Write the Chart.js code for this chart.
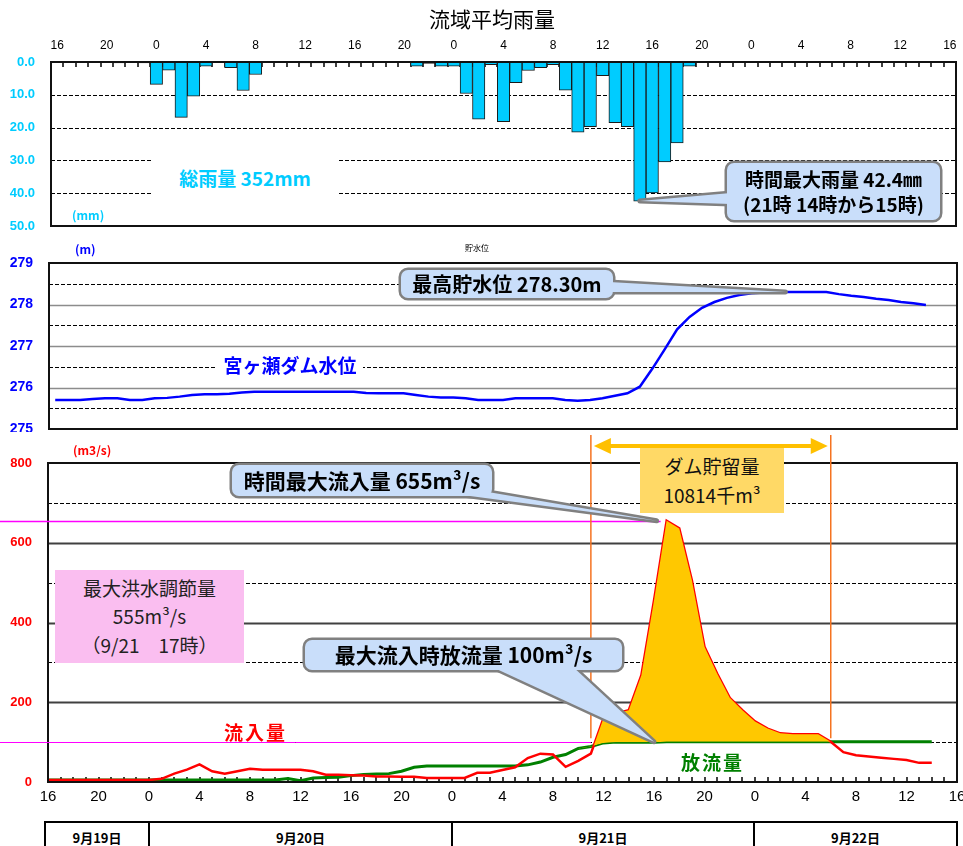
<!DOCTYPE html>
<html>
<head>
<meta charset="utf-8">
<script src="https://cdn.jsdelivr.net/npm/chart.js@4.4.0/dist/chart.umd.min.js"></script>
<style>
body{margin:0;background:#fff;width:963px;height:846px;overflow:hidden;position:relative;font-family:"Noto Sans CJK JP",sans-serif}
canvas{position:absolute;left:0}
.t{position:absolute;white-space:nowrap;line-height:1;z-index:5}
.b{font-weight:700}
.c{position:absolute;z-index:5;display:flex;flex-direction:column;align-items:center;justify-content:center;text-align:center;font-weight:700;color:#000;line-height:1.3;white-space:nowrap}
.dates{position:absolute;left:44px;top:821px;width:910px;height:40px;border:2px solid #000;display:flex;z-index:5}
.dates div{border-left:2px solid #000;text-align:center;font-weight:700;font-size:13px;padding-top:5px}
.dates div:first-child{border-left:none}
</style>
</head>
<body>
<canvas id="rain" width="963" height="232" style="top:0"></canvas>
<canvas id="level" width="963" height="200" style="top:232px"></canvas>
<canvas id="flow" width="963" height="380" style="top:432px"></canvas>

<div class="t" style="left:0;width:984px;text-align:center;top:8px;font-size:21px">流域平均雨量</div>
<div class="t b" style="left:72px;top:209px;font-size:12px;color:#00CCFF">(mm)</div>
<div class="t b" style="left:152px;top:150px;width:186px;height:55px;background:#fff;font-size:19px;color:#00CCFF;display:flex;align-items:center;justify-content:center">総雨量 352mm</div>
<div class="c" style="left:727px;top:163px;width:213px;height:57px;font-size:19px;line-height:1.3">時間最大雨量 42.4㎜<br>(21時 14時から15時)</div>

<div class="t b" style="left:75px;top:243px;font-size:12px;color:#0000FF">(m)</div>
<div class="t" style="left:465px;top:244px;font-size:8px;color:#000">貯水位</div>
<div class="t b" style="left:217px;top:355px;width:146px;height:20px;background:#fff;font-size:19px;color:#0000FF;text-align:center">宮ヶ瀬ダム水位</div>
<div class="c" style="left:401px;top:270px;width:212px;height:28px;font-size:20px">最高貯水位 278.30m</div>

<div class="t b" style="left:73px;top:444px;font-size:12px;color:#FF0000">(m3/s)</div>
<div class="c" style="left:232px;top:465px;width:260px;height:31px;font-size:21px">時間最大流入量 655m³/s</div>
<div class="c" style="left:305px;top:640px;width:317px;height:30px;font-size:21px">最大流入時放流量 100m³/s</div>
<div class="c" style="left:55px;top:570px;width:189px;height:93px;background:#FABEF0;font-weight:400;font-size:19px;color:#222;line-height:1.5">最大洪水調節量<br>555m³/s<br>（9/21　17時）</div>
<div class="c" style="left:640px;top:448px;width:144px;height:65px;background:#FFD966;font-weight:400;font-size:19px;color:#111;line-height:1.5">ダム貯留量<br>10814千m³</div>
<div class="t b" style="left:224px;top:722px;font-size:19px;color:#FF0000;letter-spacing:2px">流入量</div>
<div class="t b" style="left:681px;top:752px;font-size:19px;color:#008000;letter-spacing:2px">放流量</div>

<div class="dates">
  <div style="width:102px">9月19日</div>
  <div style="width:301px">9月20日</div>
  <div style="width:300px">9月21日</div>
  <div style="width:201px">9月22日</div>
</div>

<script>
// hour labels 9/19 16時 - 9/22 16時
var hourLabels = ['16','17','18','19','20','21','22','23',
  '0','1','2','3','4','5','6','7','8','9','10','11','12','13','14','15','16','17','18','19','20','21','22','23',
  '0','1','2','3','4','5','6','7','8','9','10','11','12','13','14','15','16','17','18','19','20','21','22','23',
  '0','1','2','3','4','5','6','7','8','9','10','11','12','13','14','15','16'];

// 流域平均雨量 (mm/h)
var rain = [null,null,null,null,null,0.3,null,0.3,
  6.8,2.5,16.9,10.4,1.3,null,1.7,8.7,3.8,null,null,null,0.3,0.3,0.3,null,0.3,null,null,null,null,1.3,0.4,1.3,
  1.3,9.6,17.4,0.8,18.2,6.3,2.6,1.7,0.8,8.6,21.4,19.7,4.2,18.5,19.7,42.4,39.9,30.5,24.7,1.3,null,null,null,null,
  null,null,null,null,null,null,null,null,null,null,null,null,null,null,null,null,null];

// 貯水位 (m)
var level = [275.70,275.70,275.70,275.72,275.74,275.74,275.70,275.70,
  275.74,275.75,275.78,275.82,275.84,275.84,275.85,275.88,275.90,275.90,275.90,275.90,275.90,275.90,275.90,275.90,
  275.90,275.87,275.86,275.86,275.86,275.82,275.78,275.76,275.76,275.74,275.70,275.70,275.70,275.74,275.74,275.74,
  275.74,275.70,275.68,275.70,275.74,275.80,275.86,276.02,276.45,276.92,277.40,277.70,277.92,278.06,278.16,278.23,
  278.27,278.29,278.30,278.30,278.30,278.30,278.30,278.25,278.21,278.18,278.14,278.11,278.06,278.03,277.99];

// 流入量 / 放流量 (m3/s)
var inflow = [5,5,5,5,5,5,5,5,5,8,
  21,31,44,27,21,27,33,31,31,31,
  31,27,18,18,17,16,14,14,13,13,
  10,10,10,10,23,23,30,37,60,71,
  69,38,53,71,160,172,180,268,455,655,
  636,506,339,272,211,180,152,134,122,120,
  120,120,101,75,67,64,61,58,55,48,48];
var outflow = [5,5,5,5,5,5,5,5,5,5,
  5,5,5,5,5,5,5,5,5,9,
  3,10,11,12,16,19,20,21,27,37,
  40,40,40,40,40,40,40,40,43,50,
  62,69,84,89,98,100,100,100,100,101,
  101,101,101,101,101,101,101,101,101,101,
  101,101,101,101,101,101,101,101,101,101,101];

var storageStart = 43, storageEnd = 62;
var peakIdx = inflow.indexOf(Math.max.apply(null, inflow));
var storage = inflow.map(function(v, i){ return (i >= storageStart && i <= storageEnd) ? v : outflow[i]; });

// keep label overflow from shrinking the plot area
function fixX(h){ return function(s){ s.height = h; s.paddingLeft = 0; s.paddingRight = 0; }; }
function fixY(w){ return function(s){ s.width = w; s.paddingTop = 0; s.paddingBottom = 0; }; }

function gridPlugin(o){
  return {
    id: 'grid_' + o.name,
    beforeDatasetsDraw: function(chart){
      var ctx = chart.ctx, a = chart.chartArea, x = chart.scales.x, y = chart.scales.y;
      ctx.save();
      ctx.lineWidth = o.solidWidth || 1;
      ctx.strokeStyle = o.solidColor || '#808080';
      (o.solid || []).forEach(function(v){
        var py = Math.round(y.getPixelForValue(v)) + 0.5;
        ctx.beginPath(); ctx.moveTo(a.left, py); ctx.lineTo(a.right, py); ctx.stroke();
      });
      ctx.lineWidth = 1;
      ctx.strokeStyle = '#000';
      ctx.setLineDash([4, 2]);
      (o.dashed || []).forEach(function(v){
        var py = Math.round(y.getPixelForValue(v)) + 0.5;
        ctx.beginPath(); ctx.moveTo(a.left, py); ctx.lineTo(a.right, py); ctx.stroke();
      });
      ctx.setLineDash([]);
      ctx.lineWidth = 1.5;
      if (o.ticks == 'top') {
        var half = (x.getPixelForValue(1) - x.getPixelForValue(0)) / 2;
        for (var i = 1; i < hourLabels.length; i++) {
          var px = Math.round(x.getPixelForValue(i) - half);
          ctx.beginPath(); ctx.moveTo(px, a.top); ctx.lineTo(px, a.top + 5); ctx.stroke();
        }
      }
      if (o.ticks == 'bottom') {
        for (var j = 1; j < hourLabels.length - 1; j++) {
          var qx = Math.round(x.getPixelForValue(j));
          ctx.beginPath(); ctx.moveTo(qx, a.bottom); ctx.lineTo(qx, a.bottom - 5); ctx.stroke();
        }
      }
      ctx.restore();
    },
    afterDatasetsDraw: function(chart){
      var ctx = chart.ctx, a = chart.chartArea;
      ctx.save();
      ctx.lineWidth = 2;
      ctx.strokeStyle = '#111';
      ctx.strokeRect(a.left, a.top, a.right - a.left, a.bottom - a.top);
      ctx.restore();
    }
  };
}

function drawCallout(ctx, box, base, tip){
  var x = box[0], y = box[1], w = box[2], h = box[3];
  function rect(){ ctx.beginPath(); ctx.roundRect(x, y, w, h, 7); }
  function wedge(){ ctx.beginPath(); ctx.moveTo(base[0][0], base[0][1]); ctx.lineTo(tip[0], tip[1]); ctx.lineTo(base[1][0], base[1][1]); ctx.closePath(); }
  ctx.save();
  ctx.lineJoin = 'round';
  ctx.strokeStyle = '#808080';
  ctx.lineWidth = 5;
  rect(); ctx.stroke(); wedge(); ctx.stroke();
  ctx.fillStyle = '#C9DEFA';
  rect(); ctx.fill(); wedge(); ctx.fill();
  ctx.restore();
}

var fontNum = 'Liberation Sans';

// ---------------- rain
new Chart(document.getElementById('rain'), {
  type: 'bar',
  data: {
    labels: hourLabels,
    datasets: [{
      data: rain,
      backgroundColor: '#00CCFF',
      borderColor: '#1a1a1a',
      borderWidth: 1,
      borderSkipped: false,
      barPercentage: 1,
      categoryPercentage: 1
    }]
  },
  options: {
    responsive: false, animation: false, devicePixelRatio: 1,
    layout: {padding: {top: 0, right: 7, bottom: 6, left: 0}},
    plugins: {legend: {display: false}, tooltip: {enabled: false}},
    scales: {
      x: {
        position: 'top',
        grid: {display: false, drawTicks: false}, border: {display: false},
        ticks: {autoSkip: false, maxRotation: 0, padding: 9, color: '#000', font: {family: fontNum, size: 12},
          callback: function(v, i){ return i % 4 === 0 ? hourLabels[i] : ''; }},
        afterFit: fixX(62)
      },
      y: {
        reverse: true, min: 0, max: 50,
        grid: {display: false, drawTicks: false}, border: {display: false},
        ticks: {stepSize: 10, padding: 16, color: '#00CCFF', font: {family: fontNum, size: 13, weight: 'bold'},
          callback: function(v){ return v.toFixed(1); }},
        afterFit: fixY(51)
      }
    }
  },
  plugins: [gridPlugin({name: 'rain', dashed: [10, 20, 30, 40], ticks: 'top'}), {
    id: 'rainCallout',
    afterDraw: function(chart){
      var x = chart.scales.x, y = chart.scales.y, i = rain.indexOf(42.4);
      drawCallout(chart.ctx, [727, 163, 213, 57], [[731, 193], [731, 204]],
        [x.getPixelForValue(i), y.getPixelForValue(rain[i])]);
    }
  }]
});

// ---------------- level
new Chart(document.getElementById('level'), {
  type: 'line',
  data: {
    labels: hourLabels,
    datasets: [{data: level, borderColor: '#0000FF', borderWidth: 2.5, pointRadius: 0, tension: 0, fill: false}]
  },
  options: {
    responsive: false, animation: false, devicePixelRatio: 1,
    layout: {padding: {top: 31, right: 6, bottom: 3, left: 0}},
    plugins: {legend: {display: false}, tooltip: {enabled: false}},
    scales: {
      x: {display: false, offset: true},
      y: {
        min: 275, max: 279,
        grid: {display: false, drawTicks: false}, border: {display: false},
        ticks: {stepSize: 1, padding: 16, color: '#0000FF', font: {family: fontNum, size: 14, weight: 'bold'}},
        afterFit: fixY(49)
      }
    }
  },
  plugins: [gridPlugin({name: 'level', solid: [276, 277, 278], dashed: [275.5, 276.5, 277.5, 278.5], solidColor: '#8c8c8c', solidWidth: 1.5}), {
    id: 'levelCallout',
    afterDraw: function(chart){
      var x = chart.scales.x, y = chart.scales.y;
      drawCallout(chart.ctx, [401, 38, 212, 28], [[609, 50], [609, 60]],
        [x.getPixelForValue(58.7), y.getPixelForValue(278.3)]);
    }
  }]
});

// ---------------- flow
new Chart(document.getElementById('flow'), {
  type: 'line',
  data: {
    labels: hourLabels,
    datasets: [
      {data: storage, borderWidth: 0, pointRadius: 0, tension: 0,
        fill: {target: 2, above: '#FFC800', below: 'rgba(0,0,0,0)'}},
      {data: inflow, borderColor: '#FF0000', borderWidth: 2.5, pointRadius: 0, tension: 0, fill: false},
      {data: outflow, borderColor: '#008000', borderWidth: 3, pointRadius: 0, tension: 0, fill: false}
    ]
  },
  options: {
    responsive: false, animation: false, devicePixelRatio: 1,
    layout: {padding: {top: 31, right: 6, bottom: 0, left: 0}},
    plugins: {legend: {display: false}, tooltip: {enabled: false}},
    scales: {
      x: {
        grid: {display: false, drawTicks: false}, border: {display: false},
        ticks: {autoSkip: false, maxRotation: 0, padding: 6, color: '#000', font: {family: fontNum, size: 15},
          callback: function(v, i){ return i % 4 === 0 ? hourLabels[i] : ''; }},
        afterFit: fixX(30)
      },
      y: {
        min: 0, max: 800,
        grid: {display: false, drawTicks: false}, border: {display: false},
        ticks: {stepSize: 200, padding: 16, color: '#FF0000', font: {family: fontNum, size: 13, weight: 'bold'}},
        afterFit: fixY(48)
      }
    }
  },
  plugins: [gridPlugin({name: 'flow', solid: [200, 400, 600], dashed: [100, 300, 500, 700], solidColor: '#404040', solidWidth: 2, ticks: 'bottom'}), {
    id: 'flowExtras',
    afterDraw: function(chart){
      var ctx = chart.ctx, x = chart.scales.x, y = chart.scales.y;
      var xs = x.getPixelForValue(storageStart), xe = x.getPixelForValue(storageEnd);
      ctx.save();
      // peak / release reference lines
      ctx.strokeStyle = '#FF00FF';
      ctx.lineWidth = 1.5;
      var py = Math.round(y.getPixelForValue(inflow[peakIdx])) + 0.5;
      ctx.beginPath(); ctx.moveTo(0, py); ctx.lineTo(x.getPixelForValue(peakIdx) - 6, py); ctx.stroke();
      ctx.lineWidth = 1;
      py = Math.round(y.getPixelForValue(100)) + 0.5;
      ctx.beginPath(); ctx.moveTo(0, py); ctx.lineTo(xs, py); ctx.stroke();
      // storage period
      ctx.strokeStyle = '#F57320';
      ctx.lineWidth = 1.5;
      [xs, xe].forEach(function(px){
        ctx.beginPath(); ctx.moveTo(px, 3); ctx.lineTo(px, y.getPixelForValue(110)); ctx.stroke();
      });
      ctx.strokeStyle = '#FFC000';
      ctx.fillStyle = '#FFC000';
      ctx.lineWidth = 4;
      var ay = 14, a0 = xs + 3, a1 = xe - 3;
      ctx.beginPath(); ctx.moveTo(a0 + 12, ay); ctx.lineTo(a1 - 12, ay); ctx.stroke();
      ctx.beginPath(); ctx.moveTo(a0, ay); ctx.lineTo(a0 + 17, ay - 8); ctx.lineTo(a0 + 17, ay + 8); ctx.closePath(); ctx.fill();
      ctx.beginPath(); ctx.moveTo(a1, ay); ctx.lineTo(a1 - 17, ay - 8); ctx.lineTo(a1 - 17, ay + 8); ctx.closePath(); ctx.fill();
      ctx.restore();
      drawCallout(ctx, [232, 33, 260, 31], [[440, 60], [488, 60]],
        [x.getPixelForValue(peakIdx) - 10, y.getPixelForValue(inflow[peakIdx])]);
      drawCallout(ctx, [305, 208, 317, 30], [[490, 234], [572, 234]],
        [x.getPixelForValue(peakIdx - 1), y.getPixelForValue(outflow[peakIdx])]);
    }
  }]
});
</script>
</body>
</html>
